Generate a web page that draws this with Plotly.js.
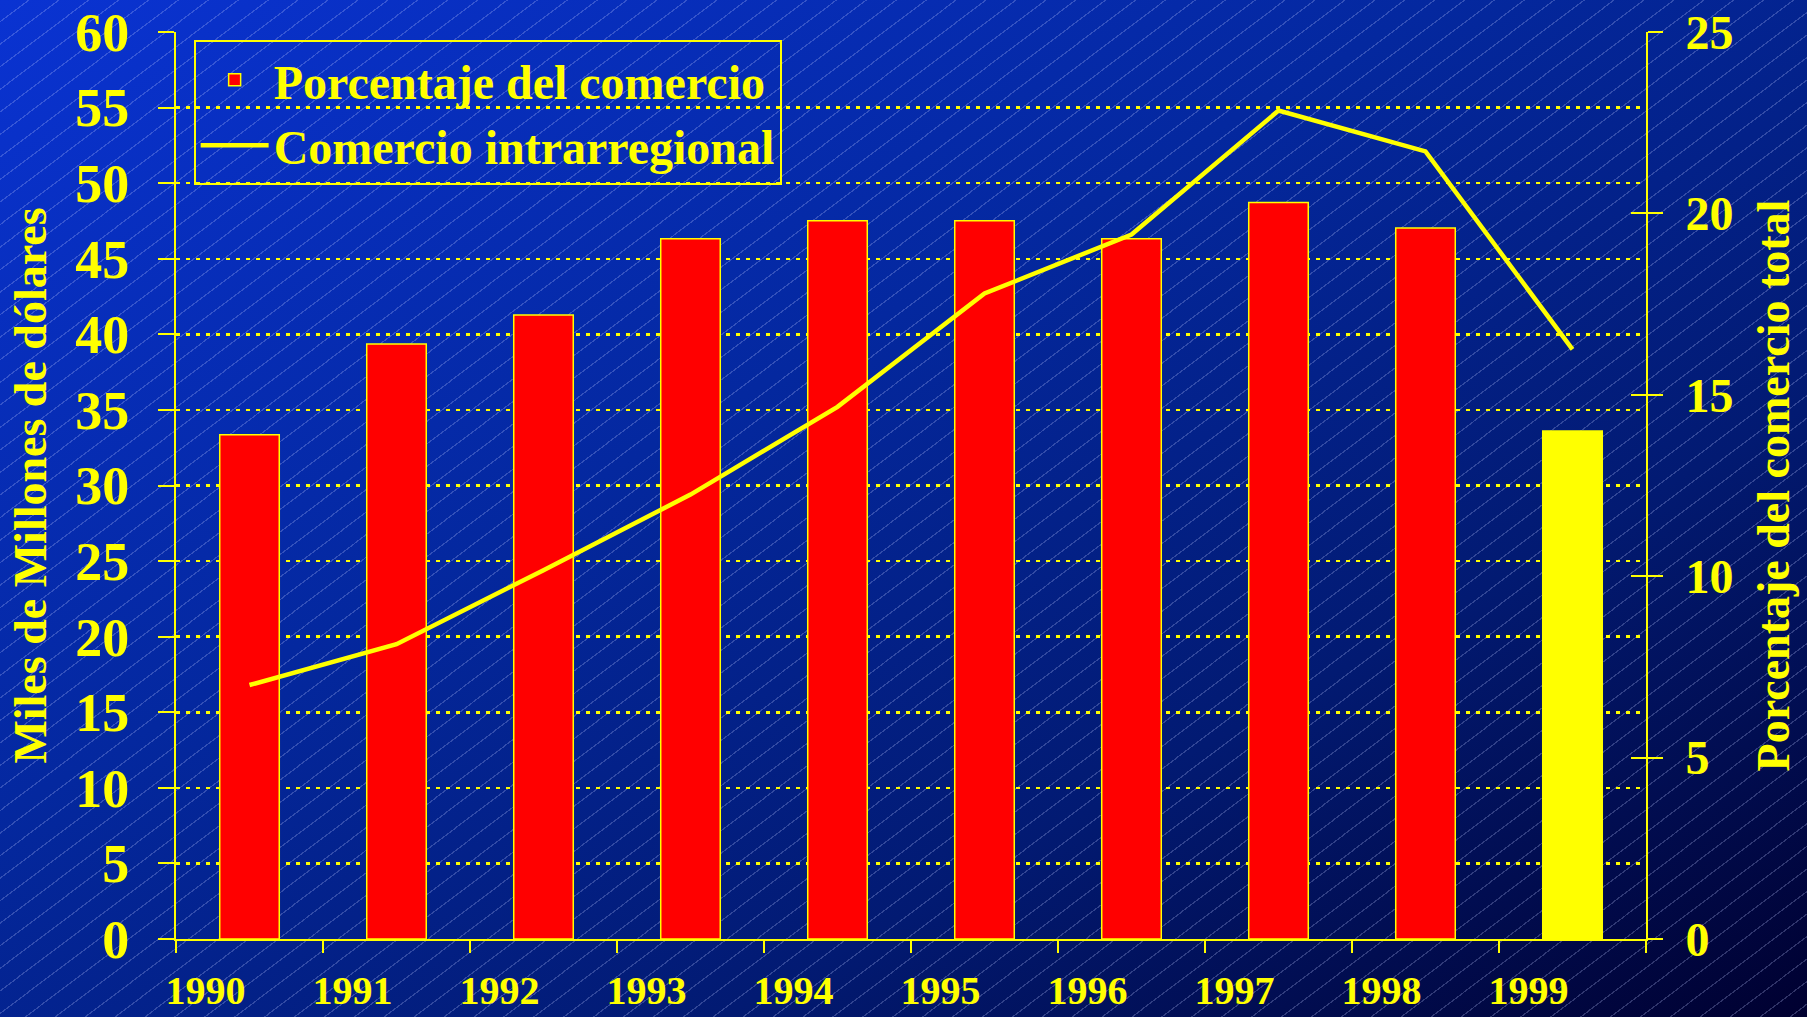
<!DOCTYPE html>
<html><head><meta charset="utf-8">
<script src="https://cdn.plot.ly/plotly-3.0.1.min.js"></script>
<style>
html,body{margin:0;padding:0;width:1807px;height:1017px;overflow:hidden;}
body{background:
 repeating-linear-gradient(143deg, rgba(255,255,255,0) 0px, rgba(255,255,255,0) 16.8px, rgba(190,200,255,0.25) 16.8px, rgba(190,200,255,0.25) 18px),
 linear-gradient(to bottom right, #0a33d2 0%, #04289f 40%, #021a72 70%, #000030 100%);}
#chart{width:1807px;height:1017px;}
</style></head><body><div id="chart"></div>
<script>
const years = [1990, 1991, 1992, 1993, 1994, 1995, 1996, 1997, 1998, 1999];
const yearLabels = ['1990','1991','1992','1993','1994','1995','1996','1997','1998','1999'];
const porcentajeComercio = [13.9, 16.4, 17.2, 19.3, 19.8, 19.8, 19.3, 20.3, 19.6, 14.0];
const comercioIntrarregional = [16.8, 19.5, 24.4, 29.4, 35.2, 42.7, 46.6, 54.8, 52.1, 39.0];
const leftTicks = [0,5,10,15,20,25,30,35,40,45,50,55,60];
const rightTicks = [0,5,10,15,20,25];
const highlightYear = 1999;

const YEL = '#ffff00';
const FONT = 'Liberation Serif, Times New Roman, serif';
const f = (s) => ({family: FONT, size: s, color: YEL, weight: 'bold'});

const data = [
  {
    type: 'bar', name: 'Porcentaje del comercio',
    x: years, y: porcentajeComercio, yaxis: 'y',
    width: 0.405,
    marker: {color: years.map(y => y === highlightYear ? YEL : '#ff0000'), line: {color: YEL, width: 1.5}},
    hoverinfo: 'skip'
  },
  {
    type: 'scatter', mode: 'lines', name: 'Comercio intrarregional',
    x: years, y: comercioIntrarregional, yaxis: 'y2',
    line: {color: YEL, width: 4.5},
    hoverinfo: 'skip'
  },
  {
    type: 'scatter', mode: 'lines', x: [], y: [], yaxis: 'y3', xaxis: 'x',
    showlegend: false, hoverinfo: 'skip'
  }
];

const layout = {
  width: 1807, height: 1017,
  margin: {l: 176, r: 161, t: 32, b: 78, pad: 0},
  paper_bgcolor: 'rgba(0,0,0,0)', plot_bgcolor: 'rgba(0,0,0,0)',
  showlegend: true,
  bargap: 0,
  xaxis: {
    range: [1989.5, 1999.5], tickmode: 'array', tickvals: years, ticktext: yearLabels,
    ticks: '', showline: true, linecolor: YEL, linewidth: 2,
    showgrid: false, zeroline: false, tickfont: f(40),
    ticklabelshift: -44, ticklabelstandoff: 15,
    minor: {tick0: 1989.5, dtick: 1, ticks: 'outside', ticklen: 12, tickwidth: 2, tickcolor: YEL, showgrid: false}
  },
  yaxis: {
    side: 'right', range: [0, 25], tickmode: 'array', tickvals: rightTicks,
    ticks: 'outside', ticklen: 15, tickwidth: 2, tickcolor: YEL,
    showline: true, linecolor: YEL, linewidth: 2, showgrid: false, zeroline: false,
    tickfont: f(48), ticklabelstandoff: 13,
    title: {text: 'Porcentaje del comercio total', font: f(46), standoff: 24}
  },
  yaxis2: {
    overlaying: 'y', side: 'left', range: [0, 60], tickmode: 'array', tickvals: leftTicks,
    ticks: 'outside', ticklen: 16, tickwidth: 2, tickcolor: YEL,
    showline: true, linecolor: YEL, linewidth: 2,
    showgrid: true, gridcolor: YEL, gridwidth: 2.5, griddash: '4px,6px', zeroline: false,
    tickfont: f(54), ticklabelstandoff: 18,
    title: {text: 'Miles de Millones de dólares', font: f(46), standoff: 14}
  },
  yaxis3: {
    overlaying: 'y', side: 'right', range: [0, 25], tickmode: 'array', tickvals: rightTicks,
    ticks: 'inside', ticklen: 15, tickwidth: 2, tickcolor: YEL,
    showticklabels: false, showline: false, showgrid: false, zeroline: false
  },
  legend: {
    x: 0.012, y: 0.991, xanchor: 'left', yanchor: 'top',
    bgcolor: 'rgba(0,0,0,0)', bordercolor: YEL, borderwidth: 2,
    font: f(48), itemwidth: 68, tracegroupgap: 0
  }
};

Plotly.newPlot('chart', data, layout, {displayModeBar: false, staticPlot: true});
</script>
</body></html>
